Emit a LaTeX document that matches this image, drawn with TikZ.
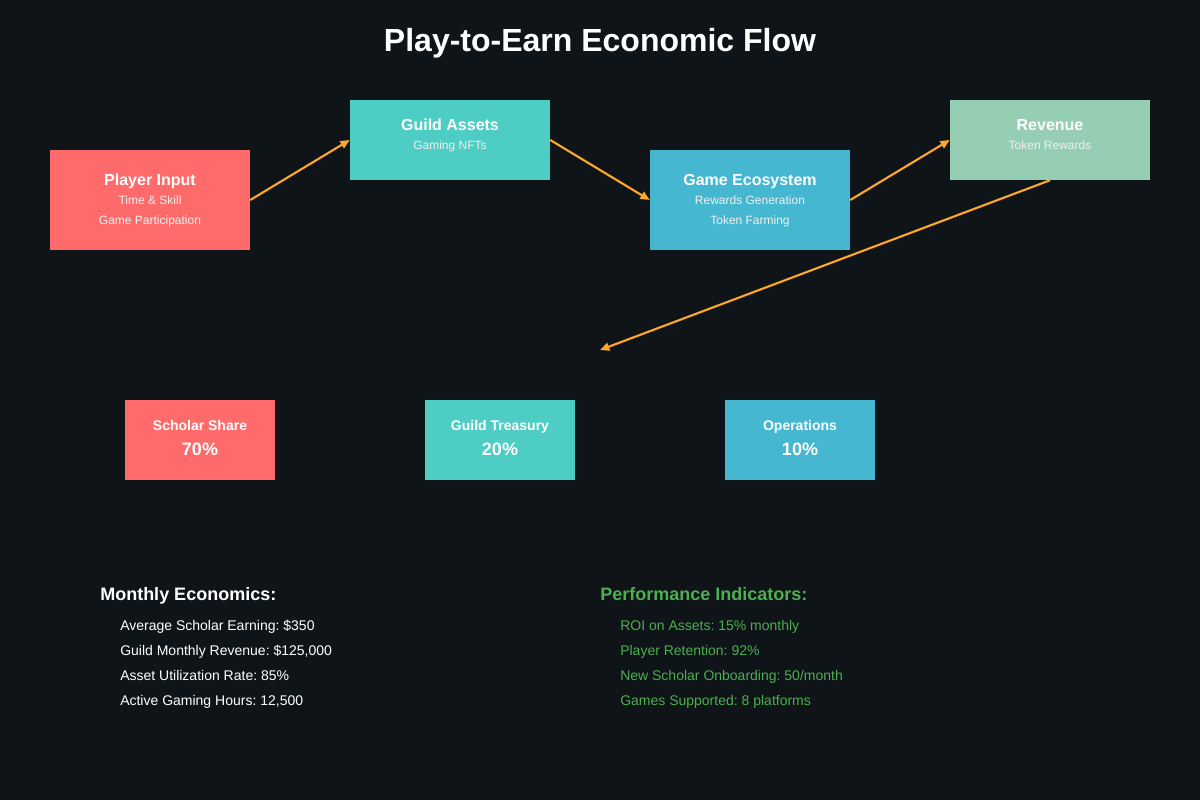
\documentclass[tikz,border=0pt]{standalone}
\usepackage{fontspec}
\setmainfont{Liberation Sans}
\usetikzlibrary{arrows.meta}
\frenchspacing
\definecolor{bg}{HTML}{0F1419}
\definecolor{cred}{HTML}{FF6B6B}
\definecolor{cteal}{HTML}{4ECDC4}
\definecolor{cblue}{HTML}{45B7D1}
\definecolor{cmint}{HTML}{96CEB4}
\definecolor{corange}{HTML}{FFA726}
\definecolor{cgreen}{HTML}{4CAF50}
\begin{document}
\begin{tikzpicture}[x=0.75pt,y=-0.75pt,
  bigbox/.style={rectangle,inner sep=0pt,minimum width=150pt,minimum height=75pt},
  topbox/.style={rectangle,inner sep=0pt,minimum width=150pt,minimum height=60pt},
  smallbox/.style={rectangle,inner sep=0pt,minimum width=112.5pt,minimum height=60pt},
  boxtitle/.style={anchor=base,inner sep=0pt,text=white,font=\fontsize{12}{14}\selectfont\bfseries\frenchspacing},
  boxsub/.style={anchor=base,inner sep=0pt,text=white!94!black,font=\fontsize{9}{11}\selectfont\frenchspacing},
  stitle/.style={anchor=base,inner sep=0pt,text=white,font=\fontsize{10.5}{12}\selectfont\bfseries},
  spct/.style={anchor=base,inner sep=0pt,text=white,font=\fontsize{13.5}{16}\selectfont\bfseries},
  flow/.style={draw=corange,line width=1.6pt,-{Triangle[length=7pt,width=6pt]}},
  head/.style={anchor=base west,inner sep=0pt,font=\fontsize{13.5}{16}\selectfont\bfseries\frenchspacing},
  item/.style={anchor=base west,inner sep=0pt,font=\fontsize{10.5}{12}\selectfont\frenchspacing}]
\fill[bg] (0,0) rectangle (1200,800);
\useasboundingbox (0,0) rectangle (1200,800);
\node[anchor=base,inner sep=0pt,text=white,font=\fontsize{24}{28}\selectfont\bfseries] (title) at (600,51) {Play-to-Earn Economic Flow};
% main boxes
\node[bigbox,fill=cred] (pi) at (150,200) {};
\node[topbox,fill=cteal] (ga) at (450,140) {};
\node[bigbox,fill=cblue] (ge) at (750,200) {};
\node[topbox,fill=cmint] (rv) at (1050,140) {};
\node[boxtitle] (pit) at (150,185) {Player Input};
\node[boxsub] (pi1) at (150,204) {Time \& Skill};
\node[boxsub] (pi2) at (150,224) {Game Participation};
\node[boxtitle] (gat) at (450,130) {Guild Assets};
\node[boxsub] (ga1) at (450,149) {Gaming NFTs};
\node[boxtitle] (get) at (750,185) {Game Ecosystem};
\node[boxsub] (ge1) at (750,204) {Rewards Generation};
\node[boxsub] (ge2) at (750,224) {Token Farming};
\node[boxtitle] (rvt) at (1050,130) {Revenue};
\node[boxsub] (rv1) at (1050,149) {Token Rewards};
% connectors
\coordinate (split) at (600,350);
\draw[flow] (pi.east) -- (ga.west);
\draw[flow] (ga.east) -- (ge.west);
\draw[flow] (ge.east) -- (rv.west);
\draw[flow] (rv.south) -- (split);
% small boxes
\node[smallbox,fill=cred] (ss) at (200,440) {};
\node[smallbox,fill=cteal] (gt) at (500,440) {};
\node[smallbox,fill=cblue] (op) at (800,440) {};
\node[stitle] (sst) at (200,430) {Scholar Share};
\node[spct] (ssp) at (200,455) {70\%};
\node[stitle] (gtt) at (500,430) {Guild Treasury};
\node[spct] (gtp) at (500,455) {20\%};
\node[stitle] (opt) at (800,430) {Operations};
\node[spct] (opp) at (800,455) {10\%};
% bottom text
\node[head,text=white] (me) at (100,600) {Monthly Economics:};
\node[item,text=white] (me1) at (120,630) {Average Scholar Earning: \$350};
\node[item,text=white] (me2) at (120,655) {Guild Monthly Revenue: \$125,000};
\node[item,text=white] (me3) at (120,680) {Asset Utilization Rate: 85\%};
\node[item,text=white] (me4) at (120,705) {Active Gaming Hours: 12,500};
\node[head,text=cgreen] (pf) at (600,600) {Performance Indicators:};
\node[item,text=cgreen] (pf1) at (620,630) {ROI on Assets: 15\% monthly};
\node[item,text=cgreen] (pf2) at (620,655) {Player Retention: 92\%};
\node[item,text=cgreen] (pf3) at (620,680) {New Scholar Onboarding: 50/month};
\node[item,text=cgreen] (pf4) at (620,705) {Games Supported: 8 platforms};
\end{tikzpicture}
\end{document}
